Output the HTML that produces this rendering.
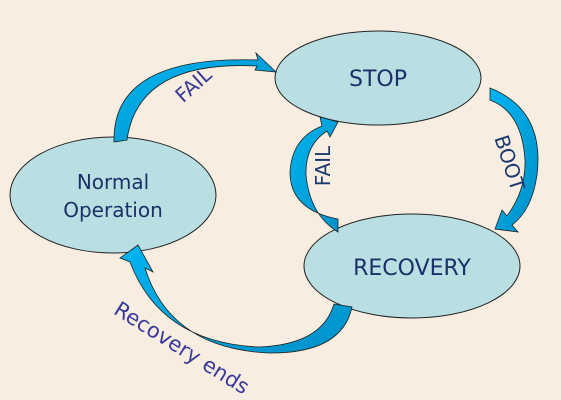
<!DOCTYPE html>
<html><head><style>
html,body{margin:0;padding:0;background:#f7eee1;}
svg{display:block;}
text{font-family:"DejaVu Sans","Liberation Sans",sans-serif;}
</style></head><body>
<svg width="561" height="400" viewBox="0 0 561 400" xmlns="http://www.w3.org/2000/svg">
<rect width="561" height="400" fill="#f7eee1"/>
<defs>
<linearGradient id="g" x1="0" y1="0" x2="1" y2="1">
<stop offset="0" stop-color="#00b4f0"/><stop offset="1" stop-color="#0090c8"/>
</linearGradient>
</defs>
<ellipse cx="378" cy="78" rx="103" ry="47" fill="#b9dfe3" stroke="#222" stroke-width="1"/>
<ellipse cx="113" cy="195" rx="103" ry="58" fill="#b9dfe3" stroke="#222" stroke-width="1"/>
<ellipse cx="412" cy="266" rx="108" ry="52" fill="#b9dfe3" stroke="#222" stroke-width="1"/>
<!-- top FAIL arrow -->
<path d="M114,142 Q112,55 258,60 L256,53 L276,72 L255,70 L257,66 Q138,60 127,140 Z" fill="url(#g)" stroke="#222" stroke-width="0.8"/>
<!-- BOOT arrow -->
<path d="M490,88 Q545,110 537,175 Q532,210 512,225 L518,232 L495,229 L502,210 L507,216 Q526,190 525,160 Q522,112 490,100 Z" fill="url(#g)" stroke="#222" stroke-width="0.8"/>
<!-- middle FAIL arrow -->
<path d="M338,219 Q290,210 290,172 Q292,138 322,126 L320,117 L338,122 L330,137 L327,131 Q305,145 306,175 Q310,215 338,232 Z" fill="url(#g)" stroke="#222" stroke-width="0.8"/>
<!-- Recovery ends arrow -->
<path d="M334,304 L352,307 Q342,354 268,353 Q170,348 145,268 L153,272 L138,245 L120,258 L130,262 Q160,342 258,347 Q322,345 334,304 Z" fill="url(#g)" stroke="#222" stroke-width="0.8"/>
<text x="378" y="86" font-size="22" fill="#1b3068" text-anchor="middle">STOP</text>
<text x="113" y="189" font-size="20" fill="#1b3068" text-anchor="middle">Normal</text>
<text x="113" y="217" font-size="20" fill="#1b3068" text-anchor="middle">Operation</text>
<text x="412" y="275" font-size="22" fill="#1b3068" text-anchor="middle">RECOVERY</text>
<text transform="translate(198,90) rotate(-42)" font-size="20" fill="#3a3a9a" text-anchor="middle">FAIL</text>
<text transform="translate(330,166) rotate(-90)" font-size="20" fill="#1b3a70" text-anchor="middle">FAIL</text>
<text transform="translate(503,165) rotate(72)" font-size="20" fill="#1b3a70" text-anchor="middle">BOOT</text>
<text transform="translate(178,354) rotate(32)" font-size="21" fill="#3a3a9a" text-anchor="middle">Recovery ends</text>
</svg>
</body></html>
